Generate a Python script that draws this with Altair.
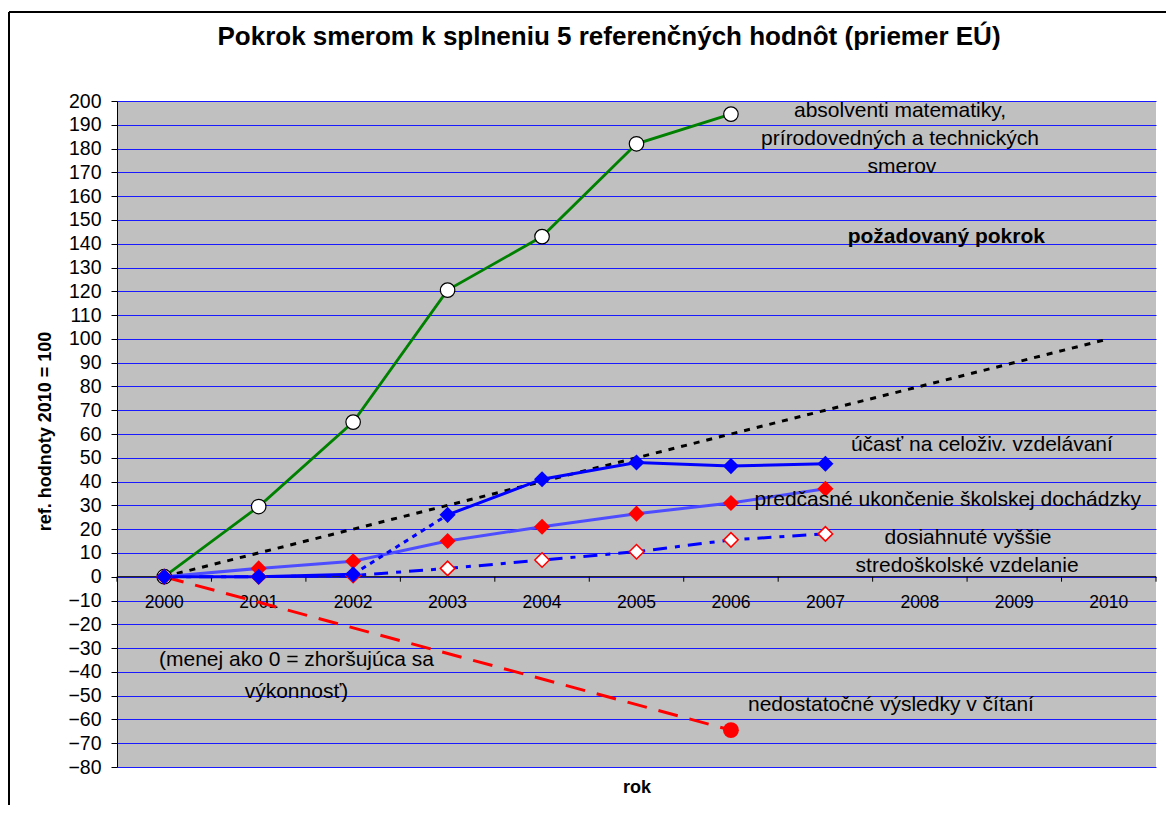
import altair as alt
import pandas as pd

# ---------------- data ----------------
categories = list(range(2000, 2011))

absolventi_years = [2000, 2001, 2002, 2003, 2004, 2005, 2006]
absolventi_vals = [0, 29.5, 65, 120.5, 143, 182, 194.5]

pozadovany_years = [2000, 2010]
pozadovany_vals = [0, 100]

ucast_years = [2000, 2001, 2002, 2003, 2004, 2005, 2006, 2007]
ucast_vals = [0, 0, 1, 26, 41, 48, 46.5, 47.5]
ucast_break = (2002, 2003)  # dotted segment (break in series)

predcasne_years = [2000, 2001, 2002, 2003, 2004, 2005, 2006, 2007]
predcasne_vals = [0, 3.5, 6.5, 15, 21, 26.5, 31, 37]

dosiahnute_years = [2000, 2001, 2002, 2003, 2004, 2005, 2006, 2007]
dosiahnute_vals = [0, 0, 0.5, 3.5, 7, 10.5, 15.5, 18]

citanie_years = [2000, 2006]
citanie_vals = [0, -64.5]

y_ticks = list(range(-80, 201, 10))

TITLE = "Pokrok smerom k splneniu 5 referenčných hodnôt (priemer EÚ)"
FONT = "Liberation Sans"
W, H = 1039, 666


def frame(years, vals):
    return pd.DataFrame({"year": years, "value": vals})


xscale = alt.Scale(domain=[1999.5, 2010.5], nice=False, zero=False)
yscale = alt.Scale(domain=[-80, 200], nice=False, zero=False)

xaxis = alt.Axis(labels=False, ticks=False, domain=False, grid=False, title="rok",
                 titleFont=FONT, titleFontSize=18, titleFontWeight="bold",
                 titleColor="black", titleBaseline="alphabetic", titleY=25)
yaxis = alt.Axis(values=y_ticks, grid=True, gridColor="#1a1aff", gridWidth=1,
                 domainColor="black", domainWidth=1, tickColor="black", tickSize=6,
                 labelFont=FONT, labelFontSize=19.5, labelColor="black", labelPadding=10,
                 labelFlush=False, labelOverlap=False,
                 title="ref. hodnoty 2010 = 100", titleFont=FONT, titleFontSize=18,
                 titleFontWeight="bold", titleColor="black", titleAngle=270,
                 titleX=-72, titleY=H / 2 - 3, titleAlign="center", titleBaseline="middle")

X = alt.X("year:Q", scale=xscale, axis=xaxis)
Y = alt.Y("value:Q", scale=yscale, axis=yaxis)


def base(df):
    return alt.Chart(df).encode(x=X, y=Y)


# axis at zero with category ticks and labels
zero_line = base(frame([1999.5, 2010.5], [0, 0])).mark_line(color="black", strokeWidth=1)
tick_df = frame([c - 0.5 for c in categories] + [categories[-1] + 0.5],
                [0] * (len(categories) + 1))
ticks = base(tick_df).mark_rule(color="black", strokeWidth=1, y2Offset=5).encode(
    y2=alt.Y2("value:Q"))
xlabels_df = pd.DataFrame({"year": categories, "value": [0] * len(categories),
                           "label": [str(c) for c in categories]})
xlabels = base(xlabels_df).mark_text(font=FONT, fontSize=17.5, color="black",
                                     baseline="middle", align="center", dy=26).encode(
    text="label:N")

# series
poz = base(frame(pozadovany_years, pozadovany_vals)).mark_line(
    color="black", strokeWidth=3, strokeDash=[6, 7])

abs_df = frame(absolventi_years, absolventi_vals)
abs_line = base(abs_df).mark_line(color="#008000", strokeWidth=2.8)
abs_pts = base(abs_df).mark_point(shape="circle", filled=True, fill="white",
                                  stroke="black", strokeWidth=1.2, size=210, opacity=1)

cit_df = frame(citanie_years, citanie_vals)
cit_line = base(cit_df).mark_line(color="#ff0000", strokeWidth=3, strokeDash=[20, 12])
cit_pts = base(frame(citanie_years[-1:], citanie_vals[-1:])).mark_point(
    shape="circle", filled=True, color="#ff0000", size=250, opacity=1)

dos_df = frame(dosiahnute_years, dosiahnute_vals)
dos_line = base(dos_df).mark_line(color="#0000ff", strokeWidth=3, strokeDash=[14, 8, 5, 8])
dos_pts = base(dos_df).mark_point(shape="diamond", filled=True, fill="white",
                                  stroke="#ff0000", strokeWidth=1.5, size=210, opacity=1)

pre_df = frame(predcasne_years, predcasne_vals)
pre_line = base(pre_df).mark_line(color="#4d4dff", strokeWidth=3)
pre_pts = base(pre_df).mark_point(shape="diamond", filled=True, color="#ff0000",
                                  size=260, opacity=1)

uc_df = frame(ucast_years, ucast_vals)
uc_a = uc_df[uc_df.year <= ucast_break[0]]
uc_b = uc_df[(uc_df.year >= ucast_break[0]) & (uc_df.year <= ucast_break[1])]
uc_c = uc_df[uc_df.year >= ucast_break[1]]
uc_line_a = base(uc_a).mark_line(color="#0000ff", strokeWidth=3)
uc_line_b = base(uc_b).mark_line(color="#0000ff", strokeWidth=3, strokeDash=[5, 5])
uc_line_c = base(uc_c).mark_line(color="#0000ff", strokeWidth=3)
uc_pts = base(uc_df).mark_point(shape="diamond", filled=True, color="#0000ff",
                                size=260, opacity=1)

# annotations (text, year-position, value-position)
ann_center = pd.DataFrame([
    ("absolventi matematiky,", 2007.79, 195.8),
    ("prírodovedných a technických", 2007.79, 184.0),
    ("smerov", 2007.81, 172.2),
    ("dosiahnuté vyššie", 2008.51, 16.3),
    ("stredoškolské vzdelanie", 2008.50, 4.5),
    ("(menej ako 0 = zhoršujúca sa", 2001.40, -35.0),
    ("výkonnosť)", 2001.40, -48.5),
], columns=["label", "year", "value"])
ann_left = pd.DataFrame([
    ("účasť na celoživ. vzdelávaní", 2007.27, 55.4),
    ("predčasné ukončenie školskej dochádzky", 2006.25, 32.2),
    ("nedostatočné výsledky v čítaní", 2006.18, -53.9),
], columns=["label", "year", "value"])
ann_bold = pd.DataFrame([
    ("požadovaný pokrok", 2008.28, 142.8),
], columns=["label", "year", "value"])

t_center = base(ann_center).mark_text(font=FONT, fontSize=21, color="black",
                                      align="center", baseline="middle").encode(text="label:N")
t_left = base(ann_left).mark_text(font=FONT, fontSize=21, color="black",
                                  align="left", baseline="middle").encode(text="label:N")
t_bold = base(ann_bold).mark_text(font=FONT, fontSize=21, fontWeight="bold", color="black",
                                  align="center", baseline="middle").encode(text="label:N")

one = pd.DataFrame({"a": [0]})
# chart title as a text mark placed above the plot area
title_mark = alt.Chart(one).mark_text(font=FONT, fontSize=26, fontWeight="bold",
                                      color="black", align="center",
                                      baseline="alphabetic").encode(
    x=alt.value(492), y=alt.value(-56), text=alt.value(TITLE))

# outer chart border (decorative frame)
border_left = alt.Chart(one).mark_rule(color="black", strokeWidth=2).encode(
    x=alt.value(-108), y=alt.value(-89), y2=alt.value(H + 200))
border_top = alt.Chart(one).mark_rule(color="black", strokeWidth=2).encode(
    x=alt.value(-108), x2=alt.value(W + 200), y=alt.value(-89))

chart = alt.layer(
    zero_line, ticks, xlabels,
    poz, abs_line, cit_line, dos_line, pre_line, uc_line_a, uc_line_b, uc_line_c,
    abs_pts, cit_pts, dos_pts, pre_pts, uc_pts,
    t_center, t_left, t_bold, title_mark,
    border_left, border_top,
).properties(
    width=W, height=H,
    padding={"left": 109, "top": 93, "right": 10, "bottom": 38},
    autosize=alt.AutoSizeParams(type="none"),
    background="white",
).configure_view(fill="#c0c0c0", strokeWidth=0)

chart.save("out.html", embed_options={"renderer": "svg", "actions": False})
